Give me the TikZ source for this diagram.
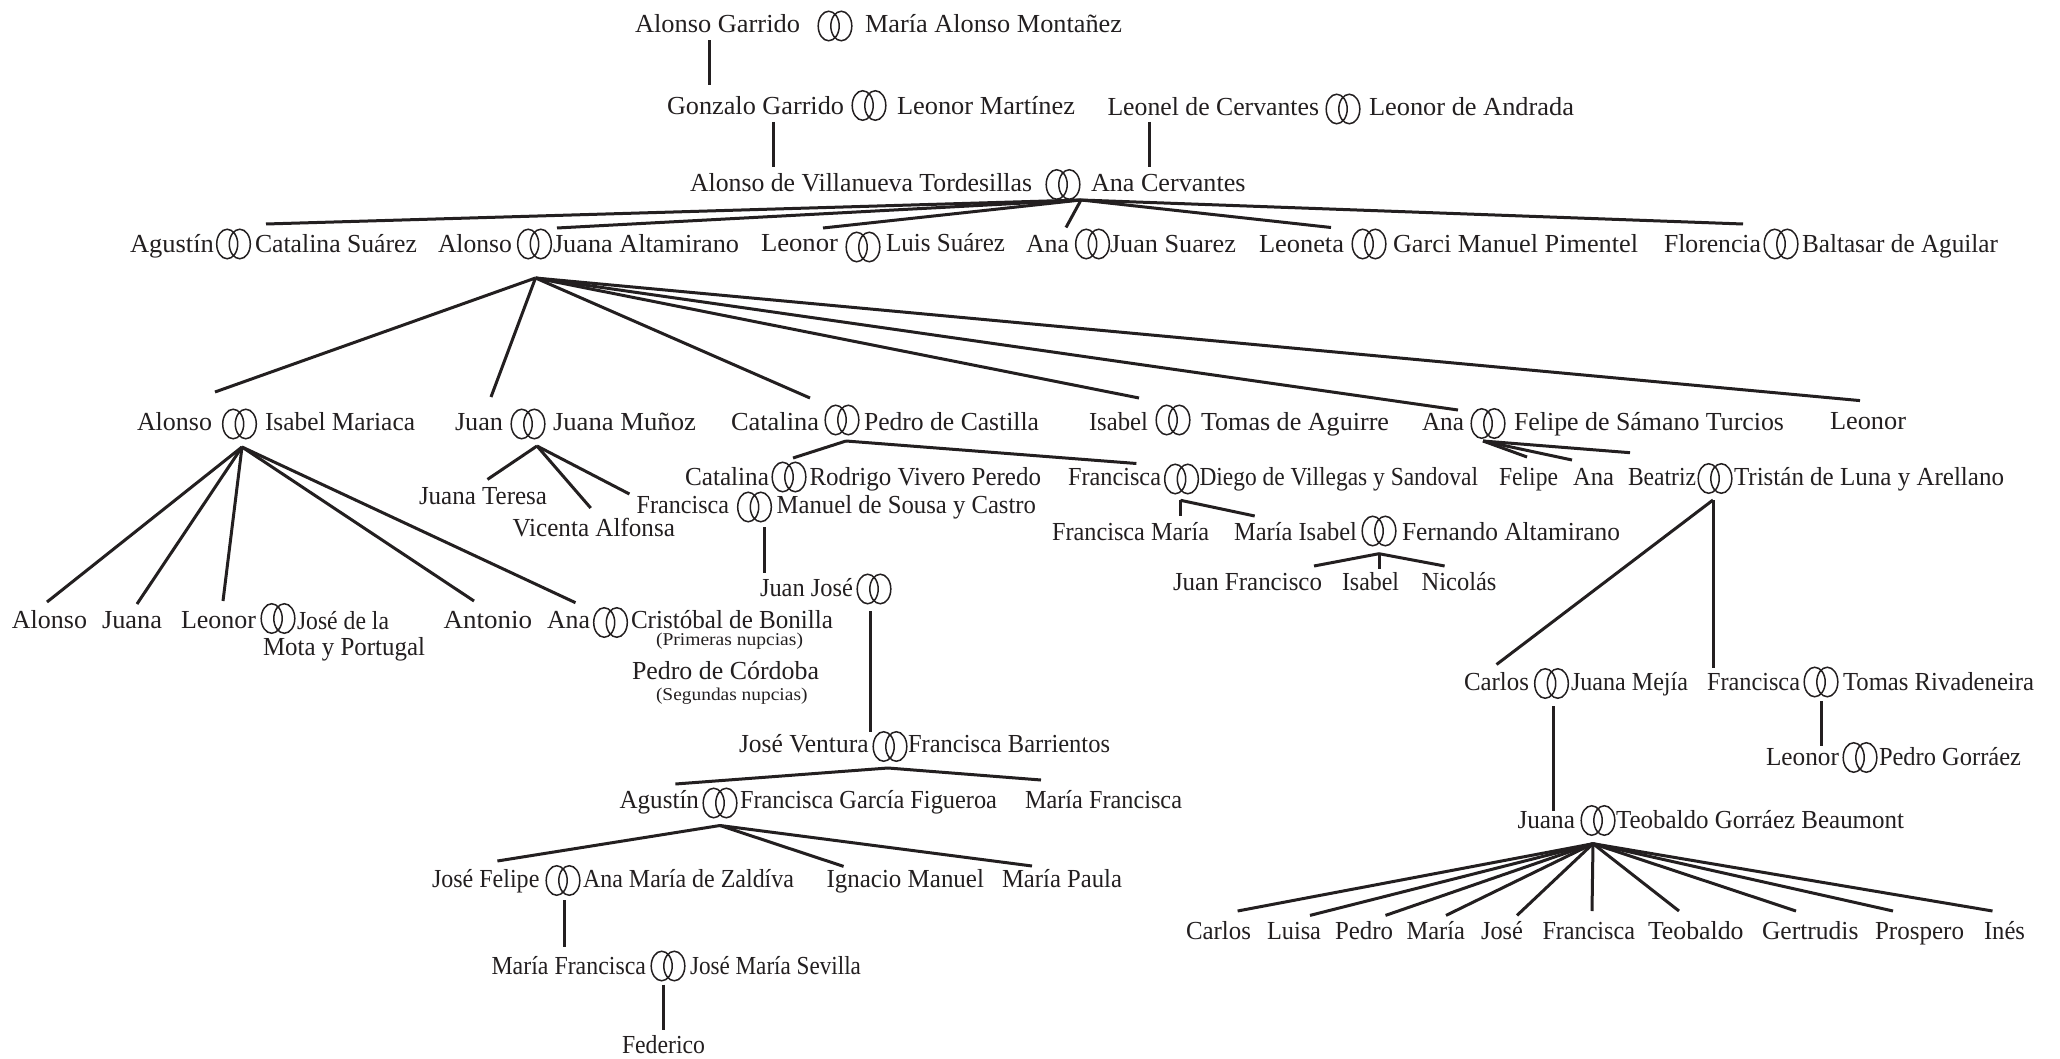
\documentclass[tikz,border=0pt]{standalone}
\usepackage{graphicx}
\usepackage{fontspec}
\setmainfont{Liberation Serif}
\usetikzlibrary{shapes.geometric}
\definecolor{ink}{HTML}{231F20}
\tikzset{
  lbl/.style={anchor=base west,inner sep=0pt,outer sep=0pt,text=ink,font=\fontsize{26}{30}\selectfont},
  lblsmall/.style={lbl,font=\fontsize{18}{21}\selectfont},
  ringe/.style={ellipse,draw=ink,line width=1.5pt,minimum width=21pt,minimum height=29.5pt,inner sep=0pt,outer sep=0pt},
  link/.style={draw=ink,line width=3pt},
  stem/.style={draw=ink,line width=3pt}
}
\newlength\fitlen
\newcommand{\fitw}[2]{\settowidth\fitlen{#2}\pgfmathsetmacro\fitr{(#1)/\fitlen}\scalebox{\fitr}[1]{#2}}
% name, left, right, baseline, text
\newcommand{\nm}[5]{\node[lbl] (#1) at (#2,#4) {\fitw{#3-#2}{#5}};}
\newcommand{\ns}[5]{\node[lblsmall] (#1) at (#2,#4) {\fitw{#3-#2}{#5}};}
% two linked rings: name, centre x, centre y
\newcommand{\rg}[3]{\node[ringe] (#1L) at (#2-6.3,#3) {};\node[ringe] (#1R) at (#2+6.3,#3) {};}
% connector from junction #1 to a new end point #2
\newcommand{\kid}[4]{\coordinate (#2) at (#3,#4);\draw[link] (#1) -- (#2);}
% vertical stem
\newcommand{\stm}[4]{\coordinate (#1a) at (#2,#3);\coordinate (#1b) at (#2,#4);\draw[stem] (#1a) -- (#1b);}
\begin{document}
\begin{tikzpicture}[x=1pt,y=-1pt]
\useasboundingbox (0,0) rectangle (2060,1059);
\fill[white] (0,0) rectangle (2060,1059);

% Generations 1-3
\nm{t1}{635}{800}{32.5}{Alonso Garrido}
\rg{r1}{835}{26}
\nm{t2}{865}{1122}{32.5}{María Alonso Montañez}
\stm{s1}{709.6}{40.5}{85}
\nm{t3}{667}{844}{115}{Gonzalo Garrido}
\rg{r2}{869}{105.5}
\nm{t4}{897}{1075}{115}{Leonor Martínez}
\stm{s2}{773.3}{122}{167}
\nm{t5}{1107.5}{1319}{116}{Leonel de Cervantes}
\rg{r3}{1343}{109}
\nm{t6}{1369}{1574}{116}{Leonor de Andrada}
\stm{s3}{1149.4}{122}{167}
\nm{t7}{690}{1032}{192}{Alonso de Villanueva Tordesillas}
\rg{r4}{1063}{184.5}
\nm{t8}{1091}{1245.5}{192}{Ana Cervantes}

% Generation 4
\coordinate (j1) at (1081,200);
\kid{j1}{k11}{266}{224}
\kid{j1}{k12}{557}{228}
\kid{j1}{k13}{823}{228}
\kid{j1}{k14}{1066}{227.5}
\kid{j1}{k15}{1331}{227.5}
\kid{j1}{k16}{1743}{224}
\nm{t9}{130}{214}{253}{Agustín}
\rg{r5}{233.5}{244}
\nm{t10}{255}{417}{253}{Catalina Suárez}
\nm{t11}{438}{512}{253}{Alonso}
\rg{r6}{534.5}{244}
\nm{t12}{553}{739}{253}{Juana Altamirano}
\nm{t13}{761}{838}{252}{Leonor}
\rg{r7}{863}{247}
\nm{t14}{886}{1005}{252}{Luis Suárez}
\nm{t15}{1026}{1069}{253}{Ana}
\rg{r8}{1092.5}{244}
\nm{t16}{1110}{1236}{253}{Juan Suarez}
\nm{t17}{1259}{1344}{253}{Leoneta}
\rg{r9}{1369}{244}
\nm{t18}{1393}{1638}{253}{Garci Manuel Pimentel}
\nm{t19}{1664}{1761}{253}{Florencia}
\rg{r10}{1781}{244}
\nm{t20}{1802}{1998}{253}{Baltasar de Aguilar}

% Generation 5
\coordinate (j2) at (535.5,278);
\kid{j2}{k21}{215}{392}
\kid{j2}{k22}{491}{397}
\kid{j2}{k23}{810}{398}
\kid{j2}{k24}{1139}{398}
\kid{j2}{k25}{1458}{410}
\kid{j2}{k26}{1860}{400.6}
\nm{t21}{137}{212}{430}{Alonso}
\rg{r11}{239.5}{424}
\nm{t22}{265}{415}{430}{Isabel Mariaca}
\nm{t23}{455}{503}{430}{Juan}
\rg{r12}{528}{424}
\nm{t24}{553}{696}{430}{Juana Muñoz}
\nm{t25}{731}{819}{430}{Catalina}
\rg{r13}{842}{420}
\nm{t26}{864}{1039}{430}{Pedro de Castilla}
\nm{t27}{1089}{1148}{430}{Isabel}
\rg{r14}{1173}{420}
\nm{t28}{1201}{1389}{430}{Tomas de Aguirre}
\nm{t29}{1422}{1464}{430}{Ana}
\rg{r15}{1488}{423.5}
\nm{t30}{1514}{1784}{430}{Felipe de Sámano Turcios}
\nm{t31}{1830}{1906}{429}{Leonor}

% Children of Alonso and Isabel Mariaca
\coordinate (j3) at (242,447);
\kid{j3}{k31}{47}{602}
\kid{j3}{k32}{137}{604}
\kid{j3}{k33}{223}{601}
\kid{j3}{k34}{474}{601}
\kid{j3}{k35}{575.5}{602.7}
\nm{t32}{12}{87}{628}{Alonso}
\nm{t33}{102}{162}{628}{Juana}
\nm{t34}{181}{256}{628}{Leonor}
\rg{r16}{278}{618.5}
\nm{t35}{297}{389}{629}{José de la}
\nm{t36}{263}{425}{655.5}{Mota y Portugal}
\nm{t37}{443.5}{532}{628}{Antonio}
\nm{t38}{547}{590}{628}{Ana}
\rg{r17}{610.5}{622.5}
\nm{t39}{631}{833}{628}{Cristóbal de Bonilla}
\ns{t40}{656}{803}{645}{(Primeras nupcias)}
\nm{t41}{632}{819}{679.5}{Pedro de Córdoba}
\ns{t42}{656}{807.5}{700}{(Segundas nupcias)}

% Children of Juan and Juana Muñoz
\coordinate (j4) at (537,446);
\kid{j4}{k41}{487.5}{479.4}
\kid{j4}{k42}{590.7}{508}
\kid{j4}{k43}{629.4}{494}
\nm{t43}{419}{547}{504}{Juana Teresa}
\nm{t44}{512.5}{675}{536}{Vicenta Alfonsa}
\nm{t45}{636.7}{729}{513.5}{Francisca}
\rg{r18}{754.5}{507}
\nm{t46}{776.7}{1036}{513.5}{Manuel de Sousa y Castro}

% Children of Catalina and Pedro de Castilla
\coordinate (j5) at (846,441);
\kid{j5}{k51}{793}{458}
\kid{j5}{k52}{1136.4}{463.5}
\nm{t47}{685}{769}{485}{Catalina}
\rg{r19}{789}{477}
\nm{t48}{809.5}{1041}{485}{Rodrigo Vivero Peredo}
\nm{t49}{1068}{1161}{485}{Francisca}
\rg{r20}{1181.5}{479}
\nm{t50}{1199.5}{1478}{485}{Diego de Villegas y Sandoval}

% Children of Ana and Felipe de Sámano Turcios
\coordinate (j6) at (1483,441);
\kid{j6}{k61}{1527}{457}
\kid{j6}{k62}{1572}{460}
\kid{j6}{k63}{1630}{452.7}
\nm{t51}{1499}{1558}{485}{Felipe}
\nm{t52}{1573}{1614}{485}{Ana}
\nm{t53}{1628}{1696}{485}{Beatriz}
\rg{r21}{1715}{478.5}
\nm{t54}{1734}{2004}{485}{Tristán de Luna y Arellano}

% Children of Francisca and Diego de Villegas
\coordinate (j7) at (1180.5,500.3);
\kid{j7}{k71}{1180.5}{515.5}
\kid{j7}{k72}{1254.7}{516}
\nm{t55}{1052}{1209}{540}{Francisca María}
\nm{t56}{1234}{1357}{540}{María Isabel}
\rg{r22}{1379}{531}
\nm{t57}{1402}{1620}{540}{Fernando Altamirano}
\coordinate (j8) at (1379,553.7);
\kid{j8}{k81}{1314}{566}
\kid{j8}{k82}{1379}{569}
\kid{j8}{k83}{1444.6}{566}
\nm{t58}{1173}{1322}{590}{Juan Francisco}
\nm{t59}{1342}{1399}{590}{Isabel}
\nm{t60}{1421.6}{1496.5}{590}{Nicolás}

% Children of Beatriz and Tristán de Luna
\coordinate (j9) at (1713,500);
\kid{j9}{k91}{1496.5}{664.5}
\kid{j9}{k92}{1713}{668}
\nm{t61}{1464}{1529}{690}{Carlos}
\rg{r23}{1551.5}{683.5}
\nm{t62}{1571}{1688}{690}{Juana Mejía}
\nm{t63}{1707}{1800}{690}{Francisca}
\rg{r24}{1821}{682}
\nm{t64}{1843}{2034}{690}{Tomas Rivadeneira}
\stm{s4}{1821}{701}{746}
\nm{t65}{1766}{1839}{765}{Leonor}
\rg{r25}{1860}{757.5}
\nm{t66}{1879}{2021}{765}{Pedro Gorráez}
\stm{s5}{1553.7}{706}{810.6}
\nm{t67}{1517.5}{1575}{828}{Juana}
\rg{r26}{1598}{820.5}
\nm{t68}{1616}{1904}{828}{Teobaldo Gorráez Beaumont}

% Children of Juana and Teobaldo
\coordinate (j10) at (1593,843.7);
\kid{j10}{ka1}{1237.6}{911}
\kid{j10}{ka2}{1310}{915.4}
\kid{j10}{ka3}{1385.5}{915.4}
\kid{j10}{ka4}{1446}{915.4}
\kid{j10}{ka5}{1517}{915.4}
\kid{j10}{ka6}{1592}{911}
\kid{j10}{ka7}{1679}{911}
\kid{j10}{ka8}{1796}{911}
\kid{j10}{ka9}{1893}{911}
\kid{j10}{ka0}{1992.5}{911}
\nm{t69}{1186}{1251}{939}{Carlos}
\nm{t70}{1267}{1321}{939}{Luisa}
\nm{t71}{1335}{1393}{939}{Pedro}
\nm{t72}{1406.5}{1465}{939}{María}
\nm{t73}{1481}{1523}{939}{José}
\nm{t74}{1542.5}{1635}{939}{Francisca}
\nm{t75}{1648}{1743.5}{939}{Teobaldo}
\nm{t76}{1762}{1858.5}{939}{Gertrudis}
\nm{t77}{1875}{1964}{939}{Prospero}
\nm{t78}{1984}{2025}{939}{Inés}

% Descendants of Francisca and Manuel de Sousa
\stm{s6}{764}{527}{573}
\nm{t79}{760}{853}{596.6}{Juan José}
\rg{r27}{874}{589}
\stm{s7}{870.6}{611}{732}
\nm{t80}{739}{868.6}{752.5}{José Ventura}
\rg{r28}{890}{746.5}
\nm{t81}{908}{1110}{752.5}{Francisca Barrientos}
\coordinate (j11) at (888,768);
\kid{j11}{kb1}{675.4}{784}
\kid{j11}{kb2}{1041}{780}
\nm{t82}{619.6}{699}{808}{Agustín}
\rg{r29}{720}{803}
\nm{t83}{740}{997}{808}{Francisca García Figueroa}
\nm{t84}{1025}{1182}{808}{María Francisca}
\coordinate (j12) at (720,825.5);
\kid{j12}{kc1}{497.4}{861}
\kid{j12}{kc2}{843.6}{866.4}
\kid{j12}{kc3}{1032}{866}
\nm{t85}{432}{539.4}{887}{José Felipe}
\rg{r30}{563}{880.5}
\nm{t86}{583}{794}{887}{Ana María de Zaldíva}
\nm{t87}{826.5}{984}{887.5}{Ignacio Manuel}
\nm{t88}{1002}{1122}{887.5}{María Paula}
\stm{s8}{564.4}{900}{946.5}
\nm{t89}{491.5}{646}{974.6}{María Francisca}
\rg{r31}{668}{966}
\nm{t90}{690}{861}{974.6}{José María Sevilla}
\stm{s9}{663.6}{984.7}{1030}
\nm{t91}{622}{705}{1053}{Federico}
\end{tikzpicture}
\end{document}
